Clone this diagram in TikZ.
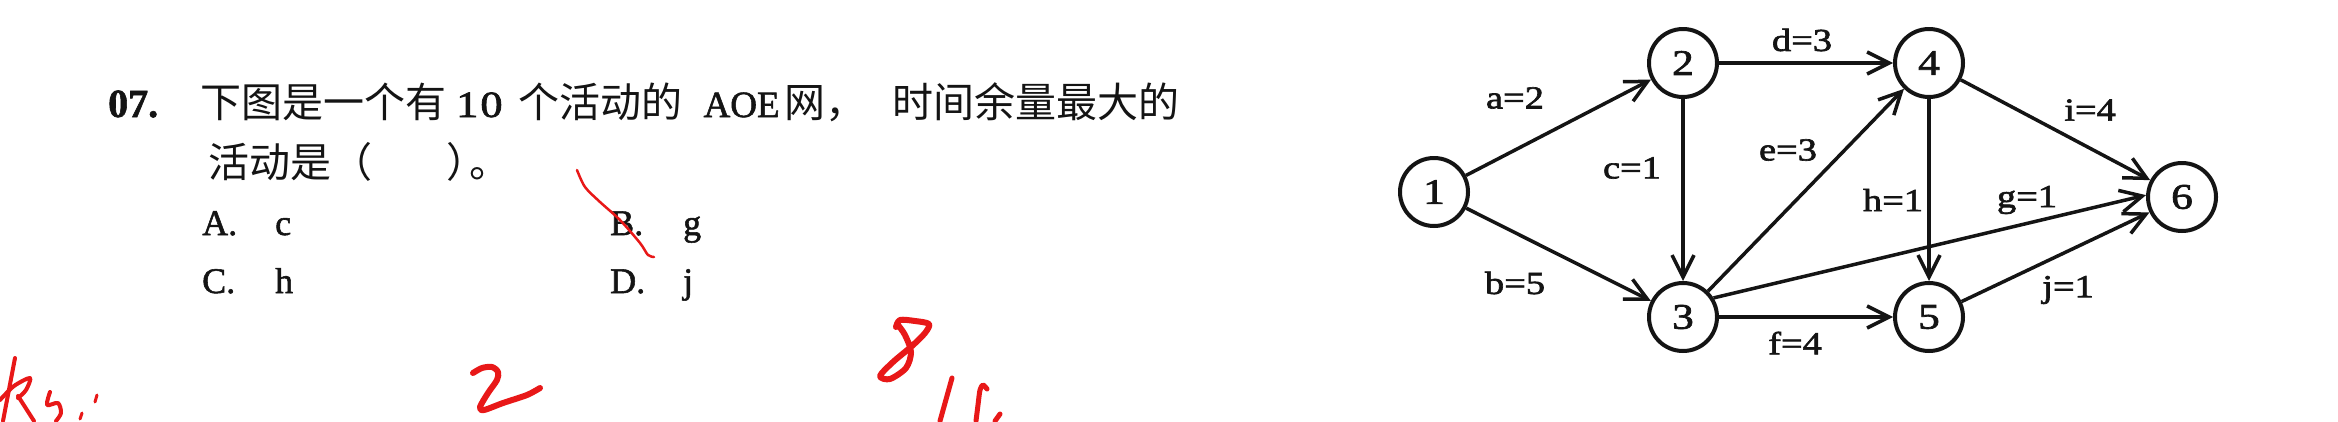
\documentclass[tikz,border=0pt]{standalone}
\usepackage{fontspec}
\setmainfont{Liberation Serif}[FakeBold=1.5]
\newfontfamily\cjk{Noto Sans CJK SC}
\newfontfamily\lab[FakeStretch=1.2,FakeBold=2]{Liberation Serif}
\usetikzlibrary{arrows.meta}
\definecolor{ink}{RGB}{20,20,20}
\definecolor{penred}{RGB}{232,24,24}
\tikzset{
  vtx/.style={circle, draw=ink, line width=4pt, minimum size=68pt, inner sep=0pt, text=ink, font=\lab\fontsize{36}{36}\selectfont},
  arcline/.style={draw=ink, line width=3.5pt, -{Straight Barb[length=22pt,width=22pt]}},
  wlab/.style={inner sep=0pt, text=ink, font=\lab\fontsize{32}{32}\selectfont},
  txt/.style={inner sep=0pt, anchor=base west, text=ink, font=\fontsize{36}{36}\selectfont},
  redmark/.style={draw=penred, line cap=round, line join=round}
}
\begin{document}
\begin{tikzpicture}[x=1pt, y=-1pt]
\fill[white] (0,0) rectangle (2338,421);
\useasboundingbox (0,0) rectangle (2338,421);

% question text
\node[txt, font=\bfseries\fontsize{40}{40}\selectfont] (qnum) at (108,117) {07.};
\node[txt] (q1) at (200,117) {{\cjk\fontsize{41}{41}\selectfont 下图是一个有}\hspace{10pt}{\lab\fontsize{37}{37}\selectfont 1\kern2pt 0}\hspace{16pt}{\cjk\fontsize{41}{41}\selectfont 个活动的}\hspace{21pt}{\fontsize{37}{37}\selectfont AOE}\hspace{5pt}{\cjk\fontsize{41}{41}\selectfont 网，}\hspace{26pt}{\cjk\fontsize{41}{41}\selectfont 时间余量最大的}};
\node[txt] (q2) at (208,177) {{\cjk\fontsize{41}{41}\selectfont 活动是（}\hspace{74pt}{\cjk\fontsize{41}{41}\selectfont ）}\hspace{-18pt}{\cjk\fontsize{41}{41}\selectfont 。}};
\node[txt] (oa) at (202,235) {\makebox[73pt][l]{A.}c};
\node[txt] (ob) at (610,235) {\makebox[73pt][l]{B.}g};
\node[txt] (oc) at (202,293) {\makebox[73pt][l]{C.}h};
\node[txt] (od) at (610,293) {\makebox[73pt][l]{D.}j};

% graph
\node[vtx] (n1) at (1434,192) {1};
\node[vtx] (n2) at (1683,63) {2};
\node[vtx] (n3) at (1683,317) {3};
\node[vtx] (n4) at (1929,63) {4};
\node[vtx] (n5) at (1929,317) {5};
\node[vtx] (n6) at (2182,197) {6};

\draw[arcline] (n1) -- (n2);
\draw[arcline] (n1) -- (n3);
\draw[arcline] (n2) -- (n3);
\draw[arcline] (n2) -- (n4);
\draw[arcline] (n3) -- (n4);
\draw[arcline] (n3) -- (n5);
\draw[arcline] (n3.32) -- (n6.177);
\draw[arcline] (n4) -- (n5);
\draw[arcline] (n4) -- (n6);
\draw[arcline] (n5) -- (n6);

\node[wlab] (la) at (1515,98) {a=2};
\node[wlab] (lb) at (1515,283) {b=5};
\node[wlab] (lc) at (1632,168) {c=1};
\node[wlab] (ld) at (1802,40) {d=3};
\node[wlab] (le) at (1788,150) {e=3};
\node[wlab] (lf) at (1795,343) {f=4};
\node[wlab] (lg) at (2027,200) {g=1};
\node[wlab] (lh) at (1893,200) {h=1};
\node[wlab] (li) at (2090,110) {i=4};
\node[wlab] (lj) at (2068,290) {j=1};

% red handwriting
\draw[redmark, line width=2.5pt] plot[smooth] coordinates {(577,170) (585,187) (600,202) (620,220) (640,243) (648,255) (654,257)};
\draw[redmark, line width=6pt] plot[smooth] coordinates {(896,327) (900,320) (915,321) (929,324) (925,333) (912,346) (893,362) (880,376) (890,379) (906,368) (911,352) (905,335) (898,325)};
\draw[redmark, line width=6pt] plot[smooth] coordinates {(473,373) (482,368) (492,367) (498,372) (497,380) (488,393) (480,407) (484,410) (503,403) (527,395) (540,388)};
\draw[redmark, line width=5pt] (952,378) -- (940,421);
\draw[redmark, line width=5pt] plot[smooth] coordinates {(987,389) (983,385) (980,390) (978,405) (976,421)};
\draw[redmark, line width=5pt] (1000,414) -- (995,421);
\draw[redmark, line width=4pt] (15,358) -- (3,421);
\draw[redmark, line width=4pt] plot[smooth] coordinates {(0,400) (14,386) (30,378) (26,390) (18,398)};
\draw[redmark, line width=4pt] (18,396) -- (34,421);
\draw[redmark, line width=4pt] plot[smooth] coordinates {(50,392) (47,405) (58,403) (61,413) (56,421)};
\draw[redmark, line width=3pt] (97,395) -- (95,402);
\draw[redmark, line width=3pt] (82,413) -- (80,419);
\end{tikzpicture}
\end{document}
